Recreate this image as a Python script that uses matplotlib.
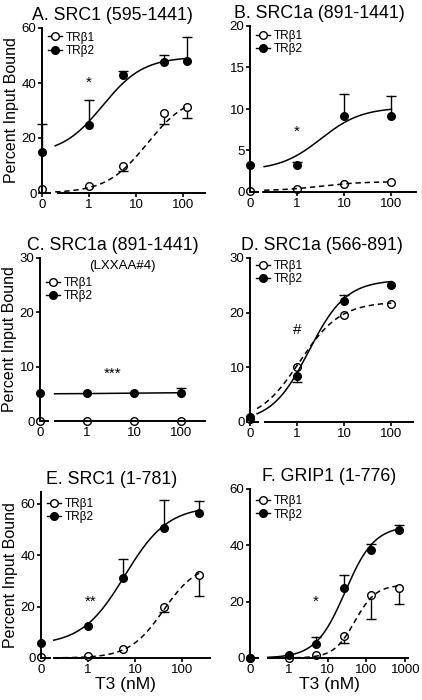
import numpy as np
import matplotlib
matplotlib.use('Agg')
import matplotlib.pyplot as plt
from matplotlib.lines import Line2D

plt.rcParams['font.family'] = ['Liberation Sans', 'DejaVu Sans']

# values; err > 0 means bar above, err < 0 bar below
# fit = [bottom, top, log EC50, hill]

# A. SRC1 (595-1441)
a_x = [0, 1, 5.2, 39, 125]
a_b1 = [1.5, 2.4, 9.8, 29.2, 31.3]
a_b1_err = [0, 0, -1.8, -4.0, -4.0]
a_b2 = [15, 24.6, 43, 47.6, 47.9]
a_b2_err = [10, 9.1, 1.5, 2.7, 8.8]
a_fit_b1 = [0, 36, 1.24, 1.0]
a_fit_b2 = [14, 49.5, 0.29, 1.0]

# B. SRC1a (891-1441)
b_x = [0, 1, 10, 100]
b_b1 = [0.1, 0.4, 1.0, 1.2]
b_b1_err = [0, 0, 0, 0]
b_b2 = [3.2, 3.2, 9.2, 9.2]
b_b2_err = [0, 0.4, 2.6, 2.4]
b_fit_b1 = [0.15, 1.25, 0.5, 1.0]
b_fit_b2 = [2.6, 10.2, 0.5, 1.0]

# C. SRC1a (891-1441) LXXAA#4
c_x = [0, 1, 10, 100]
c_b1 = [0, 0, 0, 0]
c_b1_err = [0, 0, 0, 0]
c_b2 = [5.1, 5.2, 5.2, 5.2]
c_b2_err = [0, 0, 0, 0.8]
c_fit_b1 = [0, 0, 0.5, 1.0]
c_fit_b2 = [5.0, 5.2, 0.5, 1.0]

# D. SRC1a (566-891)
d_x = [0, 1, 10, 100]
d_b1 = [0.6, 10.1, 19.6, 21.6]
d_b1_err = [0, 0, 0, 0]
d_b2 = [0.9, 8.4, 22.2, 25.1]
d_b2_err = [0, -1.1, 1.0, 0]
d_fit_b1 = [0, 22, 0.05, 1.0]
d_fit_b2 = [0, 26, 0.25, 1.1]

# E. SRC1 (1-781)
e_x = [0, 1, 5.4, 42, 230]
e_b1 = [0.3, 0.6, 3.5, 20, 32.3]
e_b1_err = [0, 0, 0, -2.2, -8.2]
e_b2 = [5.8, 12.6, 31, 50.6, 56.5]
e_b2_err = [0, 0, 7.3, 10.9, 4.5]
e_fit_b1 = [0, 37, 1.6, 1.2]
e_fit_b2 = [5, 59, 0.78, 0.95]

# F. GRIP1 (1-776)
f_x = [0, 1, 5, 26, 134, 670]
f_b1 = [0, 0, 1.1, 7.9, 22.4, 24.8]
f_b1_err = [0, 0, 0, -2.7, -8.6, -5.6]
f_b2 = [0, 1.1, 4.9, 24.8, 38.2, 45.3]
f_b2_err = [0, 0, 2.7, 4.7, 2.2, 2.0]
f_fit_b1 = [0, 26, 1.7, 1.6]
f_fit_b2 = [0, 47, 1.45, 1.15]

W, H = 422, 700
fig = plt.figure(figsize=(W/100, H/100), dpi=100)


def pos(x):
	x = np.asarray(x, dtype=float)
	return np.where(x > 0, np.log10(np.where(x > 0, x, 1)), -1.0)


def hill(u, p):
	bottom, top, ec, h = p
	return bottom + (top - bottom)/(1 + 10**((ec - u)*h))


def errbars(ax, u, y, err):
	for ui, yi, ei in zip(u, y, err):
		if ei == 0:
			continue
		ax.plot([ui, ui], [yi, yi+ei], color='k', lw=1.0, zorder=1, clip_on=False)
		ax.plot([ui], [yi+ei], marker='_', ms=7, mew=1.0, color='k', zorder=1, clip_on=False)


def panel(box, title, tx, x, b1, b1e, b2, b2e, f1, f2, ylim, yticks, xmax,
		brk, cstart, star, leg_y, xlab=False, ylab=False, nticks=3, sub=None):
	l, t, r, b = box
	ax = fig.add_axes([l/W, 1-b/H, (r-l)/W, (b-t)/H])
	u = pos(x)
	errbars(ax, u, b1, b1e)
	errbars(ax, u, b2, b2e)
	uu = np.linspace(cstart, u[-1], 200)
	ax.plot(uu, hill(uu, f1), color='k', lw=1.1, ls=(0, (3.5, 2.5)), zorder=3)
	ax.plot(uu, hill(uu, f2), color='k', lw=1.1, zorder=3)
	ax.plot(u, b1, ls='none', marker='o', ms=5.5, mfc='white', mec='k', mew=1.0,
		zorder=2, clip_on=False)
	ax.plot(u, b2, ls='none', marker='o', ms=5.5, mfc='k', mec='k', zorder=2, clip_on=False)
	# broken x axis
	ax.plot([-1, brk[0]], [0, 0], color='k', lw=1.4, clip_on=False, zorder=2.5)
	ax.plot([brk[1], xmax], [0, 0], color='k', lw=1.4, clip_on=False, zorder=2.5)
	ax.set_xlim(-1, xmax)
	ax.set_ylim(*ylim)
	ax.set_xticks(np.arange(-1, nticks))
	ax.set_xticklabels(['0'] + [str(10**k) for k in range(nticks)])
	ax.set_yticks(yticks)
	for s in ['top', 'right', 'bottom']:
		ax.spines[s].set_visible(False)
	ax.spines['left'].set_linewidth(1.4)
	ax.tick_params(direction='out', length=3, width=1.2, labelsize=9.5, pad=1)
	ax.patch.set_alpha(0)
	ax.set_title(title, fontsize=12.8, x=tx, pad=6)
	ax.text(star[0], star[1], star[2], ha='center', va='center', fontsize=11)
	if sub:
		ax.text(0.5, 0.985, sub, transform=ax.transAxes, ha='center', va='top', fontsize=9.5)
	if ylab:
		ax.set_ylabel('Percent Input Bound', fontsize=11.5, labelpad=2)
	if xlab:
		ax.set_xlabel('T3 (nM)', fontsize=12.5, labelpad=1)
	hs = [Line2D([], [], color='k', lw=1.0, marker='o', ms=5.5, mfc='white', mew=1.0),
		Line2D([], [], color='k', lw=1.0, marker='o', ms=5.5, mfc='k')]
	ax.legend(hs, ['TR\u03b21', 'TR\u03b22'], loc='upper left', bbox_to_anchor=(0.035, leg_y),
		frameon=False, fontsize=8.5, handlelength=1.2, handletextpad=0.35,
		labelspacing=0.12, borderpad=0, borderaxespad=0)
	return ax


panel((42, 28, 205, 193), 'A. SRC1 (595-1441)', 0.43, a_x, a_b1, a_b1_err, a_b2, a_b2_err,
	a_fit_b1, a_fit_b2, (0, 60), [0, 20, 40, 60], 2.47, (-0.82, -0.67), -0.72,
	(0, 40, '*'), 0.978, ylab=True)
panel((250, 26, 416, 192), 'B. SRC1a (891-1441)', 0.42, b_x, b_b1, b_b1_err, b_b2, b_b2_err,
	b_fit_b1, b_fit_b2, (0, 20), [0, 5, 10, 15, 20], 2.52, (-0.83, -0.73), -0.7,
	(0, 7.2, '*'), 0.976)
panel((40, 258, 205, 421), 'C. SRC1a (891-1441)', 0.44, c_x, c_b1, c_b1_err, c_b2, c_b2_err,
	c_fit_b1, c_fit_b2, (0, 30), [0, 10, 20, 30], 2.51, (-0.83, -0.69), -0.69,
	(0.55, 8.6, '***'), 0.883, ylab=True, sub='(LXXAA#4)')
panel((250, 258, 413, 422), 'D. SRC1a (566-891)', 0.44, d_x, d_b1, d_b1_err, d_b2, d_b2_err,
	d_fit_b1, d_fit_b2, (0, 30), [0, 10, 20, 30], 2.46, (-0.83, -0.68), -0.85,
	(0, 16.8, '#'), 0.988)
panel((41, 492, 210, 658), 'E. SRC1 (1-781)', 0.42, e_x, e_b1, e_b1_err, e_b2, e_b2_err,
	e_fit_b1, e_fit_b2, (0, 64.5), [0, 20, 40, 60], 2.59, (-0.8, -0.73), -0.73,
	(0.05, 22, '**'), 0.964, xlab=True, ylab=True)
panel((250, 489, 408, 658), 'F. GRIP1 (1-776)', 0.5, f_x, f_b1, f_b1_err, f_b2, f_b2_err,
	f_fit_b1, f_fit_b2, (0, 60), [0, 20, 40, 60], 3.07, (-0.8, -0.54), -0.54,
	(0.7, 20, '*'), 0.964, xlab=True, nticks=4)

fig.savefig('out.png', dpi=100)
